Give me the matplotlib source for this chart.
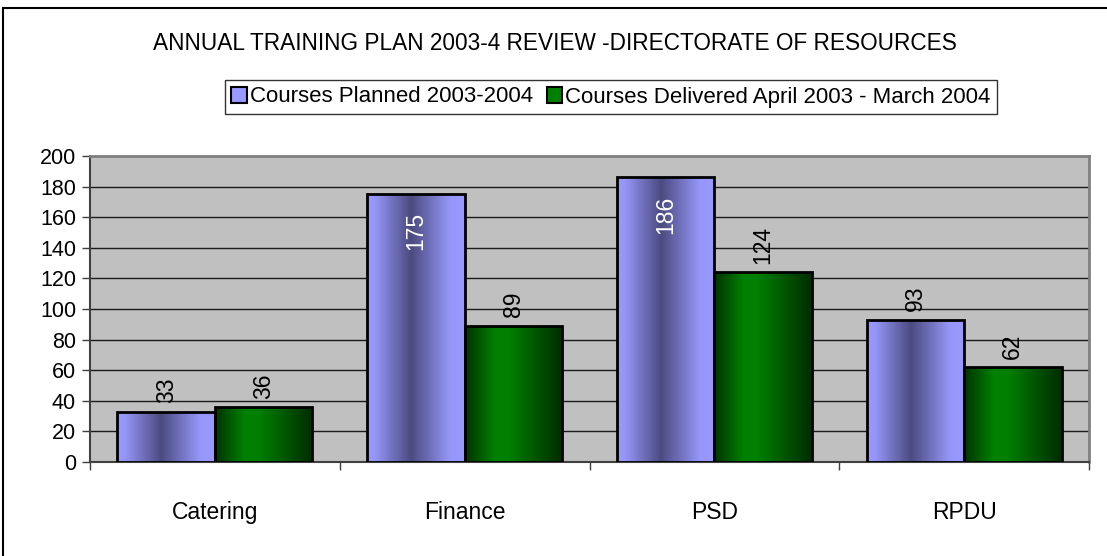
import numpy as np
import matplotlib
matplotlib.use("Agg")
import matplotlib.pyplot as plt
from matplotlib.colors import LinearSegmentedColormap
from matplotlib.patches import Rectangle

# Dados do gráfico
categorias = ["Catering", "Finance", "PSD", "RPDU"]
planejados = [33, 175, 186, 93]
entregues = [36, 89, 124, 62]
nome_planejados = "Courses Planned 2003-2004"
nome_entregues = "Courses Delivered April 2003 - March 2004"
titulo = "ANNUAL TRAINING PLAN 2003-4 REVIEW -DIRECTORATE OF RESOURCES"
ticks_y = [0, 20, 40, 60, 80, 100, 120, 140, 160, 180, 200]

plt.rcParams['font.family'] = ['Liberation Sans', 'DejaVu Sans']

# Gradientes estilo Excel (claro-escuro-claro)
cmap_azul = LinearSegmentedColormap.from_list(
    "azul", [(0, "#9999FF"), (0.08, "#9696F8"), (0.45, "#4B4B80"),
             (0.85, "#9797FA"), (1, "#9999FF")])
cmap_verde = LinearSegmentedColormap.from_list(
    "verde", [(0, "#003300"), (0.3, "#008000"), (0.45, "#007F00"),
              (0.95, "#003300"), (1, "#003000")])

fig = plt.figure(figsize=(11.07, 5.56), dpi=100)
ax = fig.add_axes([90 / 1107, 1 - 462 / 556, 999 / 1107, 306 / 556])
ax.set_facecolor("#C0C0C0")

x = np.arange(len(categorias))
largura = 0.39
gradiente = np.linspace(0, 1, 256).reshape(1, -1)

def barras_gradiente(posicoes, valores, cmap):
    barras = ax.bar(posicoes, valores, width=largura, facecolor="none",
                    edgecolor="black", linewidth=2, zorder=4)
    for b in barras:
        x0, y0 = b.get_x(), b.get_y()
        im = ax.imshow(gradiente, cmap=cmap, aspect="auto", zorder=3,
                       extent=[x0, x0 + b.get_width(), y0, y0 + b.get_height()],
                       interpolation="bilinear")
        im.set_clip_path(b)
    return barras

b1 = barras_gradiente(x - largura / 2, planejados, cmap_azul)
b2 = barras_gradiente(x + largura / 2, entregues, cmap_verde)

# Rótulos verticais
for barras, valores in [(b1, planejados), (b2, entregues)]:
    for b, v in zip(barras, valores):
        cx = b.get_x() + b.get_width() / 2
        if v > 170:
            ax.annotate(str(v), (cx, v), xytext=(0, -13), textcoords="offset points",
                        rotation=90, ha="center", va="top", color="white",
                        fontsize=16.5, zorder=6)
        else:
            ax.annotate(str(v), (cx, v), xytext=(0, 6), textcoords="offset points",
                        rotation=90, ha="center", va="bottom", color="black",
                        fontsize=16.5, zorder=6)

ax.set_xlim(-0.5, len(categorias) - 0.5)
ax.set_ylim(0, 200)
ax.set_yticks(ticks_y)
ax.yaxis.grid(True, color="#1a1a1a", linewidth=1)
ax.set_axisbelow(True)
ax.tick_params(axis="y", direction="out", length=6, width=1, color="#404040",
               labelsize=15.5, pad=4)

ax.set_xticks(x)
ax.set_xticklabels(categorias, fontsize=16.5)
ax.set_xticks(np.arange(len(categorias) + 1) - 0.5, minor=True)
ax.tick_params(axis="x", which="major", length=0, pad=28)
ax.tick_params(axis="x", which="minor", direction="out", length=6, width=1,
               color="#404040")

for lado in ["top", "right"]:
    ax.spines[lado].set_color("#808080")
    ax.spines[lado].set_linewidth(2)
for lado in ["left", "bottom"]:
    ax.spines[lado].set_color("#404040")
    ax.spines[lado].set_linewidth(1.5)

fig.text(555 / 1107, 1 - 43 / 556, titulo, ha="center", va="center", fontsize=16.3)

alca1 = Rectangle((0, 0), 1, 1, facecolor="#9999FF", edgecolor="black", linewidth=1.5)
alca2 = Rectangle((0, 0), 1, 1, facecolor="#008000", edgecolor="black", linewidth=1.5)
leg = fig.legend([alca1, alca2], [nome_planejados, nome_entregues], ncol=2,
                 loc="center", bbox_to_anchor=(611 / 1107, 1 - 97 / 556),
                 fontsize=16, frameon=True, fancybox=False, edgecolor="black",
                 handlelength=0.7, handleheight=0.7, handletextpad=0.15,
                 columnspacing=0.6, borderpad=0.3, borderaxespad=0)
leg.get_frame().set_linewidth(1)

# Moldura do gráfico (só esquerda e topo visíveis)
fig.patches.append(Rectangle((3 / 1107, -0.1), 1.2, 1 - 8 / 556 + 0.1,
                             transform=fig.transFigure, fill=False,
                             edgecolor="black", linewidth=1.5))

fig.savefig("out.png", dpi=100)
